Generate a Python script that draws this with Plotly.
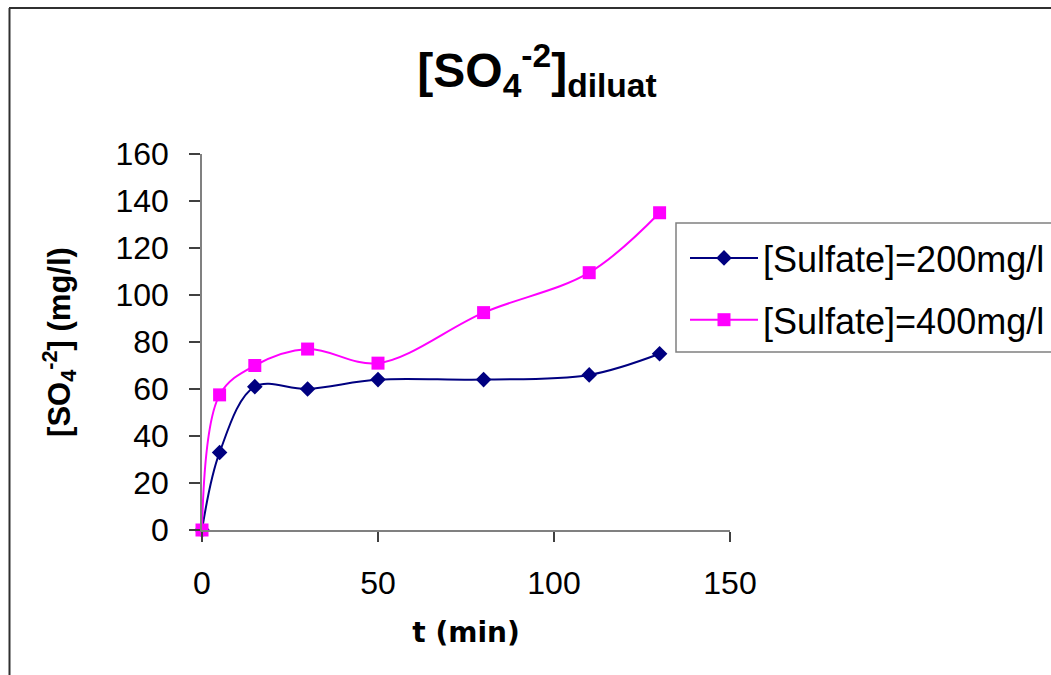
import plotly.graph_objects as go

# Sampling times (min)
t_min = [0, 5, 15, 30, 50, 80, 110, 130]

# Sulfate concentration in the diluate (mg/l)
so4_200 = [0, 33, 61, 60, 64, 64, 66, 75]
so4_400 = [0, 57.5, 70, 77, 71, 92.5, 109.5, 135]

series_names = ["[Sulfate]=200mg/l", "[Sulfate]=400mg/l"]

x_ticks = [0, 50, 100, 150]
y_ticks = [0, 20, 40, 60, 80, 100, 120, 140, 160]

W, H = 1051, 675
L, R, T, B = 202, 321, 154, 145

fig = go.Figure()

fig.add_trace(go.Scatter(
    x=t_min, y=so4_200, name=series_names[0], mode="lines+markers",
    line=dict(color="#000080", width=2, shape="spline", smoothing=1),
    marker=dict(symbol="diamond", size=12, color="#000080"),
    cliponaxis=False, legendgroup="a",
))
fig.add_trace(go.Scatter(
    x=t_min, y=so4_400, name=series_names[1], mode="lines+markers",
    line=dict(color="#FF00FF", width=2, shape="spline", smoothing=1),
    marker=dict(symbol="square", size=13, color="#FF00FF"),
    cliponaxis=False, legendgroup="b",
))

# paper-coordinate helpers for the frame and legend box
def px_x(p):
    return (p - L) / (W - L - R)

def px_y(p):
    return (H - B - p) / (H - T - B)

fig.update_layout(
    width=W, height=H,
    margin=dict(l=L, r=R, t=T, b=B, autoexpand=False),
    paper_bgcolor="white", plot_bgcolor="white",
    font=dict(family="Liberation Sans, Arial, sans-serif", color="black"),
    title=dict(
        text="<b>[SO<sub>4</sub><sup>-2</sup>]<sub>diluat</sub></b>",
        font=dict(size=48, family="Liberation Sans, Arial, sans-serif"),
        x=537 / W, xanchor="center", xref="container",
        y=1 - 70 / H, yanchor="middle",
    ),
    xaxis=dict(
        range=[0, 150], tickvals=x_ticks, showgrid=False, zeroline=False,
        showline=True, linecolor="#808080", linewidth=1.5,
        ticks="outside", ticklen=10, tickcolor="#404040", tickwidth=1.5,
        tickfont=dict(size=32), ticklabelstandoff=14,
        title=dict(text="<b>t (min)</b>", font=dict(size=28, family="DejaVu Sans, sans-serif"), standoff=22),
    ),
    yaxis=dict(
        range=[0, 160], tickvals=y_ticks, showgrid=False, zeroline=False,
        showline=True, linecolor="#808080", linewidth=1.5,
        ticks="outside", ticklen=11, tickcolor="#404040", tickwidth=1.5,
        tickfont=dict(size=32), ticklabelstandoff=14,
        title=dict(text="<b>[SO<sub>4</sub><sup>-2</sup>] (mg/l)</b>", font=dict(size=31), standoff=36),
    ),
    legend=dict(
        x=px_x(685), y=px_y(228), xanchor="left", yanchor="top",
        borderwidth=0, bgcolor="rgba(0,0,0,0)",
        font=dict(size=36), itemwidth=68, tracegroupgap=12,
        traceorder="grouped",
    ),
    showlegend=True,
)

# legend frame (open on the right where it runs past the chart edge)
fig.add_shape(type="rect", xref="paper", yref="paper",
              x0=px_x(676), x1=px_x(W + 20), y0=px_y(352), y1=px_y(223),
              line=dict(color="#808080", width=1.5), fillcolor="white", layer="below")

# outer chart frame (top and left edges)
fig.add_shape(type="line", xref="paper", yref="paper",
              x0=px_x(9), x1=px_x(W + 5), y0=px_y(8), y1=px_y(8),
              line=dict(color="#303030", width=2))
fig.add_shape(type="line", xref="paper", yref="paper",
              x0=px_x(9.5), x1=px_x(9.5), y0=px_y(8), y1=px_y(H + 5),
              line=dict(color="#303030", width=2))

fig.write_html("out.html")
